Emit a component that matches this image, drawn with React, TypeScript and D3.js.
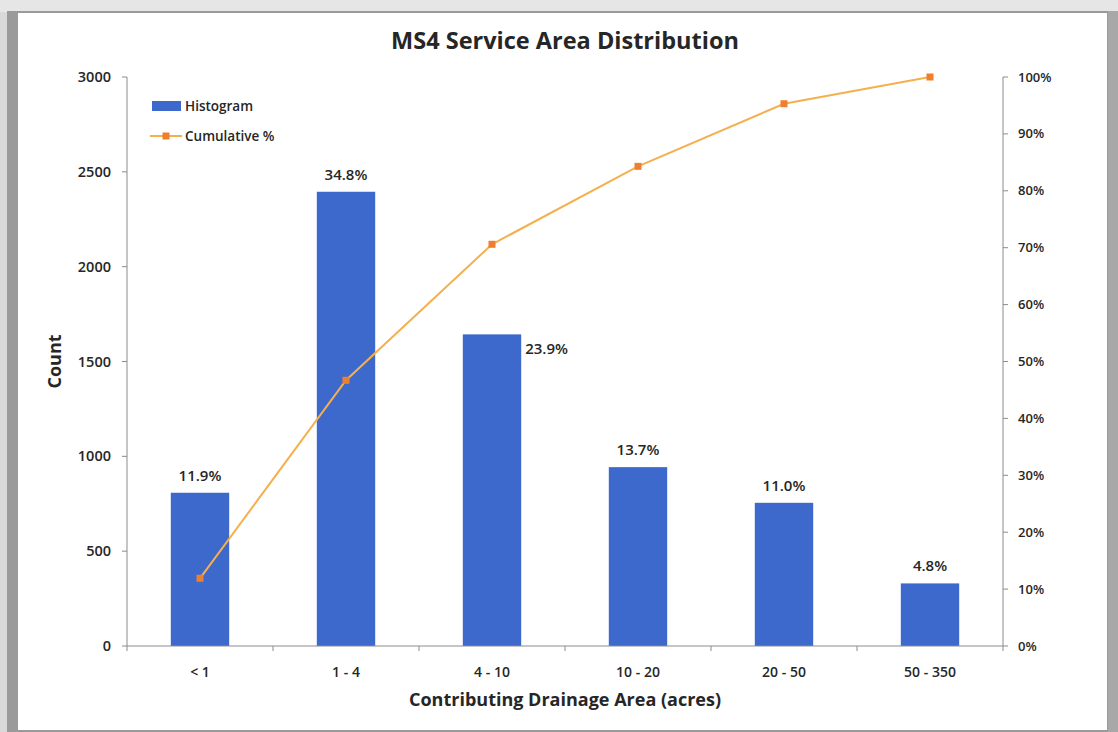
import React from "react";
import * as d3 from "d3";

const categories = ["< 1", "1 - 4", "4 - 10", "10 - 20", "20 - 50", "50 - 350"];
const counts = [808, 2395, 1643, 943, 755, 330];
const percentLabels = ["11.9%", "34.8%", "23.9%", "13.7%", "11.0%", "4.8%"];
const cumulative = [11.9, 46.7, 70.6, 84.3, 95.3, 100];
const countTicks = [0, 500, 1000, 1500, 2000, 2500, 3000];
const pctTicks = [0, 10, 20, 30, 40, 50, 60, 70, 80, 90, 100];

const W = 1118;
const H = 732;
const FONT = "'Open Sans', 'Noto Sans', sans-serif";
const TEXT = "#262626";
const AXIS = "#8c8c8c";
const BAR = "#3d68cc";
const LINE = "#f5b04e";
const MARK = "#ee7f2d";

export default function App() {
  const left = 127, right = 1003, top = 77, bottom = 646;
  const x = d3.scaleBand<string>().domain(categories).range([left, right]).paddingInner(0.6).paddingOuter(0.3);
  const yL = d3.scaleLinear().domain([0, 3000]).range([bottom, top]);
  const yR = d3.scaleLinear().domain([0, 100]).range([bottom, top]);
  const cx = (c: string) => (x(c) as number) + x.bandwidth() / 2;
  const line = d3.line<number>().x((_, i) => cx(categories[i])).y((d) => yR(d));
  const boundaries = d3.range(categories.length + 1).map((i) => left + i * ((right - left) / categories.length));

  return (
    <svg width={W} height={H} style={{ display: "block", position: "absolute", left: 0, top: 0 }}>
      <rect x={0} y={0} width={W} height={H} fill="#d9d9d9" />
      <rect x={0} y={0} width={W} height={12} fill="#e6e6e6" />
      <rect x={7} y={11} width={1101} height={H - 11} fill="#9a9a9a" />
      <rect x={18} y={13} width={1089} height={H - 15} fill="#ffffff" />
      <rect x={1108} y={11} width={10} height={H - 11} fill="#a8a8a8" />

      <text x={565} y={49} textAnchor="middle" fontFamily={FONT} fontWeight={700} fontSize={23.5} fill={TEXT}>
        MS4 Service Area Distribution
      </text>

      {counts.map((v, i) => (
        <rect key={i} x={x(categories[i])} y={yL(v)} width={x.bandwidth()} height={bottom - yL(v)} fill={BAR} />
      ))}

      <line x1={left} x2={left} y1={top} y2={bottom} stroke={AXIS} strokeWidth={1} />
      {countTicks.map((t) => (
        <g key={t}>
          <line x1={left - 5} x2={left} y1={yL(t)} y2={yL(t)} stroke={AXIS} />
          <text x={left - 16} y={yL(t)} dy="0.35em" textAnchor="end" fontFamily={FONT} fontWeight={600} fontSize={14.5} fill={TEXT}>
            {t}
          </text>
        </g>
      ))}

      <line x1={right} x2={right} y1={top} y2={bottom} stroke={AXIS} strokeWidth={1} />
      {pctTicks.map((t) => (
        <g key={t}>
          <line x1={right} x2={right + 5} y1={yR(t)} y2={yR(t)} stroke={AXIS} />
          <text x={right + 15} y={yR(t)} dy="0.35em" textAnchor="start" fontFamily={FONT} fontWeight={600} fontSize={13} fill={TEXT}>
            {t}%
          </text>
        </g>
      ))}

      <line x1={left} x2={right} y1={bottom} y2={bottom} stroke={AXIS} strokeWidth={1} />
      {boundaries.map((b, i) => (
        <line key={i} x1={b} x2={b} y1={bottom} y2={bottom + 5} stroke={AXIS} />
      ))}
      {categories.map((c) => (
        <text key={c} x={cx(c)} y={672} dy="0.35em" textAnchor="middle" fontFamily={FONT} fontWeight={600} fontSize={14} fill={TEXT}>
          {c}
        </text>
      ))}

      <path d={line(cumulative) || ""} fill="none" stroke={LINE} strokeWidth={2} />
      {cumulative.map((v, i) => (
        <rect key={i} x={cx(categories[i]) - 3.5} y={yR(v) - 3.5} width={7} height={7} fill={MARK} />
      ))}

      {counts.map((v, i) => {
        const side = i === 2;
        return (
          <text
            key={i}
            x={side ? (x(categories[i]) as number) + x.bandwidth() + 4 : cx(categories[i])}
            y={side ? yL(v) + 20 : yL(v) - 12}
            textAnchor={side ? "start" : "middle"}
            fontFamily={FONT}
            fontWeight={600}
            fontSize={15}
            fill={TEXT}
          >
            {percentLabels[i]}
          </text>
        );
      })}

      <text transform={`translate(61,${(top + bottom) / 2}) rotate(-90)`} textAnchor="middle" fontFamily={FONT} fontWeight={700} fontSize={18} fill={TEXT}>
        Count
      </text>
      <text x={565} y={706} textAnchor="middle" fontFamily={FONT} fontWeight={700} fontSize={18} fill={TEXT}>
        Contributing Drainage Area (acres)
      </text>

      <rect x={152} y={101} width={29} height={10} fill={BAR} />
      <text x={185} y={106} dy="0.35em" fontFamily={FONT} fontWeight={600} fontSize={13.5} fill={TEXT}>Histogram</text>
      <line x1={150} x2={182} y1={136} y2={136} stroke={LINE} strokeWidth={2} />
      <rect x={162.5} y={132.5} width={7} height={7} fill={MARK} />
      <text x={185} y={136} dy="0.35em" fontFamily={FONT} fontWeight={600} fontSize={13.5} fill={TEXT}>Cumulative %</text>
    </svg>
  );
}
